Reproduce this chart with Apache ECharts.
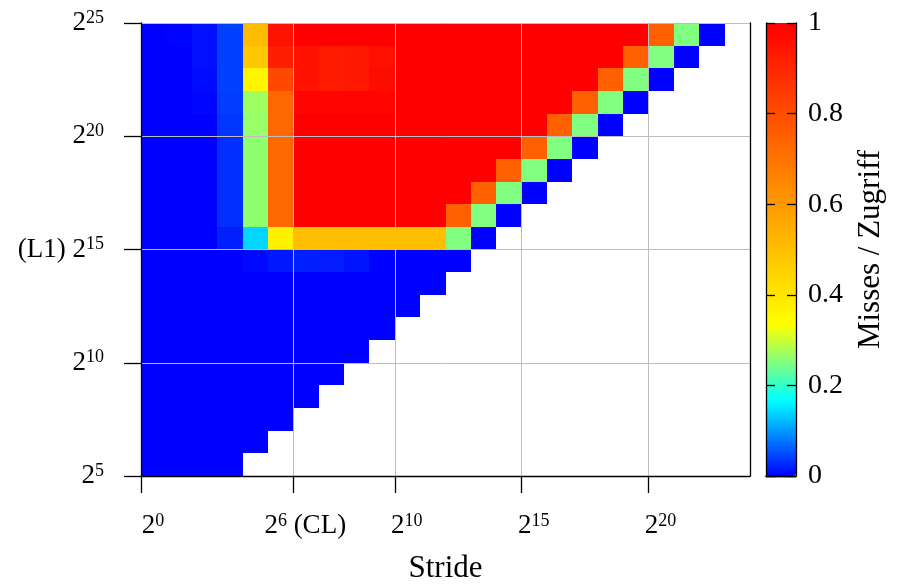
<!DOCTYPE html>
<html>
<head>
<meta charset="utf-8">
<script src="https://cdn.jsdelivr.net/npm/echarts@6/dist/echarts.min.js"></script>
<style>
html,body{margin:0;padding:0;background:#fff;}
#chart{width:898px;height:585px;}
</style>
</head>
<body>
<div id="chart"></div>
<script>
// y: log2 of array size (rows), x: log2 of stride (columns, starting at 2^0)
const sizeExps = [5,6,7,8,9,10,11,12,13,14,15,16,17,18,19,20,21,22,23,24];
const missRatio = [
  [0,0,0,0],
  [0,0,0,0,0],
  [0,0,0,0,0,0],
  [0,0,0,0,0,0,0],
  [0,0,0,0,0,0,0,0],
  [0,0,0,0,0,0,0,0,0],
  [0,0,0,0,0,0,0,0,0,0],
  [0,0,0,0,0,0,0,0,0,0,0],
  [0,0,0,0,0,0,0,0,0,0,0,0],
  [0,0,0,0,0.005,0.016,0.02,0.018,0.013,0,0,0,0],
  [0,0,0,0.02,0.14,0.37,0.5,0.5,0.5,0.5,0.5,0.5,0.25,0],
  [0,0,0,0.03,0.26,0.73,1,1,1,1,1,1,0.75,0.25,0],
  [0,0,0,0.03,0.26,0.73,1,1,1,1,1,1,1,0.75,0.25,0],
  [0,0,0,0.03,0.26,0.73,1,1,1,1,1,1,1,1,0.75,0.25,0],
  [0,0,0,0.03,0.26,0.73,1,1,1,1,1,1,1,1,1,0.75,0.25,0],
  [0,0,0,0.035,0.265,0.73,1,1,1,1,1,1,1,1,1,1,0.75,0.25,0],
  [0,0,0.003,0.04,0.27,0.73,0.99,0.99,0.99,0.99,1,1,1,1,1,1,1,0.75,0.25,0],
  [0,0,0.008,0.042,0.36,0.81,0.95,0.93,0.94,0.97,1,1,1,1,1,1,1,1,0.75,0.25,0],
  [0,0,0.01,0.042,0.48,0.92,0.95,0.93,0.94,0.96,1,1,1,1,1,1,1,1,1,0.75,0.25,0],
  [0,0.002,0.01,0.042,0.51,0.95,1,1,1,1,1,1,1,1,1,1,1,1,1,1,0.75,0.25,0]
];
const xTickExps = [0,6,10,15,20];
const xTickSuffix = ['', ' (CL)', '', '', ''];
const yTickExps = [5,10,15,20,25];
const yTickPrefix = ['', '', '(L1) ', '', ''];
const xName = 'Stride';
const colorbarName = 'Misses / Zugriff';
const colorStops = ['#0000ff','#00ffff','#ffff00','#ffbf00','#ff8000','#ff4000','#ff0000'];

const cells = [];
missRatio.forEach((row, r) => {
  row.forEach((v, x) => cells.push([x, sizeExps[r], v]));
});

const FONT = 'Liberation Serif, DejaVu Serif, serif';
const rich = {
  b: {fontSize: 27, fontFamily: FONT, color: '#000', lineHeight: 28, verticalAlign: 'middle'},
  s: {fontSize: 18, fontFamily: FONT, color: '#000', lineHeight: 18, verticalAlign: 'top'}
};

const chart = echarts.init(document.getElementById('chart'), null, {renderer: 'canvas'});
chart.setOption({
  animation: false,
  backgroundColor: '#fff',
  grid: [
    {left: 141, top: 23, width: 609, height: 453, containLabel: false, outerBoundsMode: 'none'},
    {left: 766, top: 23, width: 30, height: 453, containLabel: false, outerBoundsMode: 'none'}
  ],
  visualMap: {
    type: 'continuous', min: 0, max: 1, dimension: 2, seriesIndex: 0,
    calculable: false, orient: 'vertical', left: 766, top: 23,
    itemWidth: 30, itemHeight: 453, padding: 0, text: null,
    inRange: {color: colorStops}
  },
  xAxis: [
    {
      gridIndex: 0, type: 'value', min: 0, max: 24, position: 'bottom', z: 5,
      name: xName, nameLocation: 'middle', nameGap: 77,
      nameTextStyle: {fontSize: 31, fontFamily: FONT, color: '#000'},
      axisLine: {show: true, onZero: false, lineStyle: {color: '#000', width: 1.3}},
      axisTick: {show: true, inside: false, length: 17, customValues: xTickExps, lineStyle: {color: '#000', width: 1.3}},
      axisLabel: {
        customValues: xTickExps, margin: 36, padding: [0,0,0,24], align: 'center',
        formatter: v => '{b|2}{s|' + v + '}{b|' + xTickSuffix[xTickExps.indexOf(v)] + '}',
        rich: rich
      },
      splitLine: {show: true, lineStyle: {color: '#bdbdbd', width: 1}}
    },
    {
      gridIndex: 1, type: 'value', min: 0, max: 1, position: 'bottom', z: 10,
      axisLine: {show: true, lineStyle: {color: '#000', width: 1.3}},
      axisTick: {show: false}, axisLabel: {show: false}, splitLine: {show: false}
    },
    {
      gridIndex: 1, type: 'value', min: 0, max: 1, position: 'top', z: 10,
      axisLine: {show: true, lineStyle: {color: '#000', width: 1.3}},
      axisTick: {show: false}, axisLabel: {show: false}, splitLine: {show: false}
    }
  ],
  yAxis: [
    {
      gridIndex: 0, type: 'value', min: 5, max: 25, position: 'left', z: 5,
      axisLine: {show: true, onZero: false, lineStyle: {color: '#000', width: 1.3}},
      axisTick: {show: true, inside: false, length: 17, customValues: yTickExps, lineStyle: {color: '#000', width: 1.3}},
      axisLabel: {
        customValues: yTickExps, margin: 37,
        formatter: v => '{b|' + yTickPrefix[yTickExps.indexOf(v)] + '2}{s|' + v + '}',
        rich: rich
      },
      splitLine: {show: true, lineStyle: {color: '#bdbdbd', width: 1}}
    },
    {
      gridIndex: 0, type: 'value', min: 5, max: 25, position: 'right', z: 5,
      axisLine: {show: true, onZero: false, lineStyle: {color: '#000', width: 1.3}},
      axisTick: {show: false}, axisLabel: {show: false}, splitLine: {show: false}
    },
    {
      gridIndex: 1, type: 'value', min: 0, max: 1, interval: 0.2, position: 'left', z: 10,
      axisLine: {show: true, onZero: false, lineStyle: {color: '#000', width: 1.3}},
      axisTick: {show: true, inside: true, length: 9, lineStyle: {color: '#000', width: 1.3}},
      axisLabel: {show: false}, splitLine: {show: false}
    },
    {
      gridIndex: 1, type: 'value', min: 0, max: 1, interval: 0.2, position: 'right', z: 10,
      name: colorbarName, nameLocation: 'middle', nameRotate: 90, nameGap: 59,
      nameTextStyle: {fontSize: 31, fontFamily: FONT, color: '#000'},
      axisLine: {show: true, onZero: false, lineStyle: {color: '#000', width: 1.3}},
      axisTick: {show: true, inside: true, length: 9, lineStyle: {color: '#000', width: 1.3}},
      axisLabel: {show: true, margin: 12, fontSize: 28, fontFamily: FONT, color: '#000'},
      splitLine: {show: false}
    }
  ],
  series: [{
    type: 'custom',
    xAxisIndex: 0, yAxisIndex: 0,
    encode: {x: 0, y: 1},
    data: cells,
    renderItem: function (params, api) {
      const x = api.value(0), y = api.value(1);
      const p0 = api.coord([x, y]);
      const p1 = api.coord([x + 1, y + 1]);
      const x0 = Math.round(p0[0]), x1 = Math.round(p1[0]);
      const y0 = Math.round(p1[1]), y1 = Math.round(p0[1]);
      return {
        type: 'rect',
        shape: {x: x0, y: y0, width: x1 - x0, height: y1 - y0},
        style: {fill: api.visual('color')}
      };
    }
  }]
});
</script>
</body>
</html>
